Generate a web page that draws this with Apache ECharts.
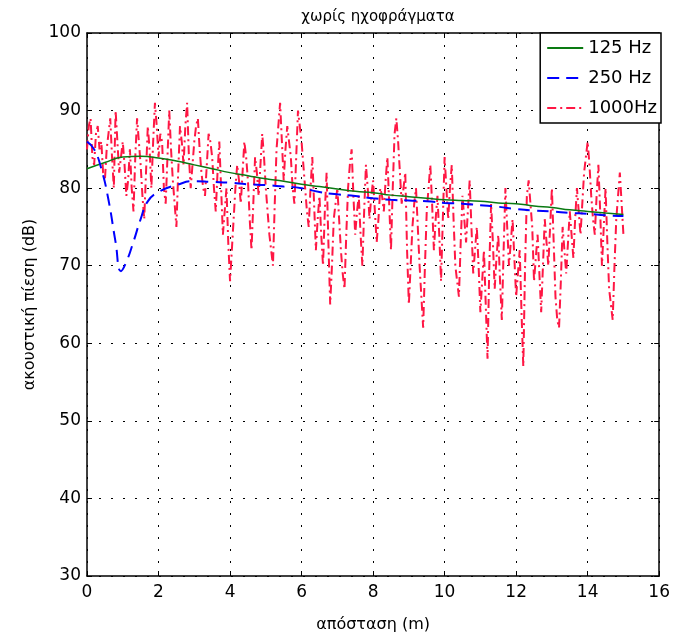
<!DOCTYPE html>
<html>
<head>
<meta charset="utf-8">
<script src="https://cdn.jsdelivr.net/npm/echarts@6/dist/echarts.min.js"></script>
<style>
  html, body { margin: 0; padding: 0; background: #fff; }
  #chart { width: 673px; height: 638px; }
</style>
</head>
<body>
<div id="chart"></div>
<script>
// 125 Hz (smooth)
var dist125 = [0, 0.5, 1, 1.5, 2, 2.5, 3, 3.5, 4, 4.5, 5, 5.5, 6, 6.5, 7, 7.5, 8, 8.5, 9, 9.5, 10, 10.5, 11, 11.5, 12, 12.5, 13, 13.5, 14, 14.5, 15];
var spl125 = [82.5, 83.3, 84.0, 84.1, 83.9, 83.5, 83.0, 82.5, 82.0, 81.6, 81.2, 80.9, 80.5, 80.2, 79.9, 79.6, 79.4, 79.1, 78.9, 78.7, 78.5, 78.4, 78.3, 78.1, 78.0, 77.7, 77.5, 77.2, 77.0, 76.8, 76.6];

// 250 Hz (dashed)
var dist250 = [0, 0.2, 0.4, 0.6, 0.8, 0.95, 1.1, 1.3, 1.5, 1.7, 2, 2.5, 3, 3.5, 4, 4.5, 5, 5.5, 6, 6.5, 7, 7.5, 8, 8.5, 9, 9.5, 10, 10.5, 11, 11.5, 12, 12.5, 13, 13.5, 14, 14.5, 15];
var spl250 = [86.0, 85.0, 82.5, 78.5, 73.0, 69.3, 70.5, 73.1, 76.0, 78.3, 79.5, 80.4, 80.9, 80.8, 80.7, 80.5, 80.4, 80.2, 80.0, 79.5, 79.2, 79.0, 78.7, 78.5, 78.4, 78.3, 78.1, 78.0, 77.8, 77.6, 77.3, 77.1, 77.0, 76.8, 76.7, 76.5, 76.4];

// 1000 Hz (dash-dot), sampled every 0.05 m from 0 to 15
var spl1000 = [
  85, 88, 89, 84, 83, 87, 88, 85, 86, 82, 81, 85, 87, 89, 84, 80, 90, 86, 82, 84, 86,
  83, 79, 81, 85, 80, 77, 84, 89, 86, 83, 79, 76, 82, 88, 85, 80, 86, 91, 88, 84,
  87, 86, 80, 78, 84, 90, 85, 81, 78, 75, 82, 88, 86, 83, 88, 91, 84, 80, 83, 86,
  88, 89, 85, 82, 80, 79, 83, 87, 86, 84, 80, 77, 82, 86, 80, 74, 77, 80, 73, 68,
  72, 76, 80, 83, 81, 78, 82, 86, 84, 81, 76, 72, 78, 84, 82, 79, 83, 87, 84, 80,
  77, 74, 72, 70, 78, 85, 88, 91, 86, 81, 85, 88, 86, 84, 80, 78, 84, 90, 88, 86,
  83, 80, 77, 75, 80, 84, 78, 72, 76, 79, 74, 70, 77, 82, 73, 65, 70, 76, 78, 80,
  76, 72, 69, 67, 74, 80, 83, 85, 79, 74, 77, 79, 74, 70, 77, 83, 80, 76, 79, 81,
  77, 73, 76, 80, 79, 77, 81, 84, 78, 72, 80, 87, 89, 86, 82, 78, 80, 82, 72, 65,
  70, 75, 78, 80, 75, 70, 66, 62, 70, 77, 80, 83, 78, 72, 76, 79, 74, 68, 76, 84,
  80, 76, 80, 83, 76, 70, 68, 66, 73, 79, 76, 73, 77, 81, 75, 69, 72, 75, 70, 64,
  68, 72, 65, 58, 70, 78, 73, 67, 71, 74, 68, 63, 72, 80, 75, 70, 73, 76, 71, 66,
  69, 72, 64, 57, 70, 79, 81, 81, 75, 68, 71, 74, 69, 64, 70, 76, 73, 70, 75, 80,
  73, 66, 63, 62, 68, 75, 72, 69, 73, 77, 74, 71, 76, 80, 77, 74, 78, 82, 84, 86,
  83, 79, 76, 74, 79, 83, 77, 70, 75, 80, 73, 67, 65, 63, 70, 76, 79, 82, 78, 74
];
var dist1000 = spl1000.map(function (v, i) { return +(i * 0.05).toFixed(2); });

function pairs(xs, ys) {
    return xs.map(function (x, i) { return [x, ys[i]]; });
}

var FONT = 'DejaVu Sans';
var chart = echarts.init(document.getElementById('chart'));

var axisCommon = {
    axisLine: { show: true, onZero: false, lineStyle: { color: '#000', width: 1.5 } },
    axisTick: { show: true, inside: true, length: 5, lineStyle: { color: '#000' } },
    splitLine: { show: false }
};

chart.setOption({
    backgroundColor: '#fff',
    animation: false,
    title: {
        text: 'χωρίς ηχοφράγματα',
        left: 373, top: 5, textAlign: 'center',
        textStyle: { fontFamily: FONT, fontSize: 15, fontWeight: 'normal', color: '#000' }
    },
    legend: {
        orient: 'vertical',
        right: 12, top: 33,
        width: 121,
        backgroundColor: '#fff',
        borderColor: '#000', borderWidth: 1.5,
        borderRadius: 0,
        padding: [6, 4, 6, 6],
        itemWidth: 36, itemHeight: 14, itemGap: 12,
        itemStyle: { opacity: 0 },
        textStyle: { fontFamily: FONT, fontSize: 18, color: '#000' },
        data: ['125 Hz', '250 Hz', '1000Hz']
    },
    grid: { left: 87, right: 13, top: 33, bottom: 58, containLabel: false },
    xAxis: [
        Object.assign({}, axisCommon, {
            type: 'value', min: 0, max: 16, interval: 2, position: 'bottom',
            name: 'απόσταση (m)', nameLocation: 'middle', nameGap: 41,
            nameTextStyle: { fontFamily: FONT, fontSize: 16, color: '#000' },
            axisLabel: { fontFamily: FONT, fontSize: 17, color: '#000', margin: 8 },
            splitLine: { show: true, lineStyle: { color: '#000', type: [2, 10], width: 1 } }
        }),
        Object.assign({}, axisCommon, {
            type: 'value', min: 0, max: 16, interval: 2, position: 'top',
            axisLabel: { show: false }
        })
    ],
    yAxis: [
        Object.assign({}, axisCommon, {
            type: 'value', min: 30, max: 100, interval: 10, position: 'left',
            name: 'ακουστική πίεση (dB)', nameLocation: 'middle', nameGap: 48,
            nameTextStyle: { fontFamily: FONT, fontSize: 16, color: '#000' },
            axisLabel: { fontFamily: FONT, fontSize: 17, color: '#000', margin: 6 },
            splitLine: { show: true, lineStyle: { color: '#000', type: [2, 10], width: 1 } }
        }),
        Object.assign({}, axisCommon, {
            type: 'value', min: 30, max: 100, interval: 10, position: 'right',
            axisLabel: { show: false }
        })
    ],
    series: [
        {
            name: '125 Hz', type: 'line', symbol: 'none', smooth: true,
            data: pairs(dist125, spl125),
            lineStyle: { color: '#0a7a12', width: 1.5, type: 'solid' },
            itemStyle: { color: '#0a7a12' }
        },
        {
            name: '250 Hz', type: 'line', symbol: 'none', smooth: true,
            data: pairs(dist250, spl250),
            lineStyle: { color: '#0000ff', width: 2, type: [12, 7] },
            itemStyle: { color: '#0000ff' }
        },
        {
            name: '1000Hz', type: 'line', symbol: 'none',
            data: pairs(dist1000, spl1000),
            lineStyle: { color: '#ff1744', width: 2, type: [9, 4, 2, 4] },
            itemStyle: { color: '#ff1744' },
            z: 1
        }
    ]
});
</script>
</body>
</html>
